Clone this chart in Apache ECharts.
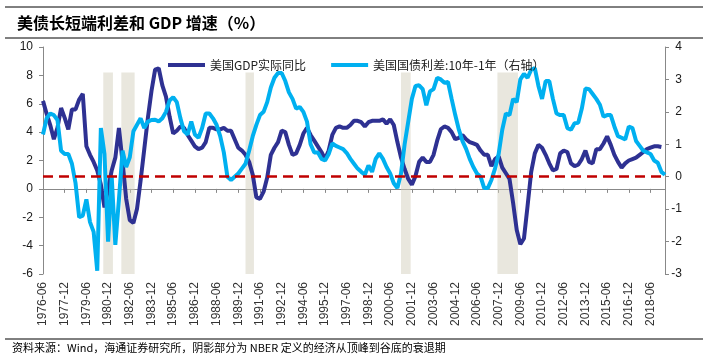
<!DOCTYPE html>
<html><head><meta charset="utf-8">
<script src="https://cdn.jsdelivr.net/npm/echarts/dist/echarts.min.js"></script>
<style>html,body{margin:0;padding:0;background:#fff}#c{width:708px;height:358px}</style>
</head><body><div id="c"></div>
<script>
// quarterly categories from 1976-06 to 2019-06
const startYear = 1976, startMonth = 6, nQ = 173;
const categories = [];
for (let i = 0; i < nQ; i++) {
  const m = startMonth - 1 + i * 3;
  categories.push((startYear + Math.floor(m / 12)) + '-' + String(m % 12 + 1).padStart(2, '0'));
}
const gdpName = '美国GDP实际同比';
const spreadName = '美国国债利差:10年-1年（右轴）';
const gdp = [6.2,5.3,4.5,3.5,4.3,5.7,5.0,4.2,5.6,5.6,6.3,6.7,3.0,2.4,1.9,1.3,0.3,-1.3,0.0,1.3,
  2.2,4.3,1.9,-0.7,-2.2,-2.4,-1.4,0.6,2.8,5.0,6.9,8.4,8.5,7.3,6.5,5.1,3.9,4.1,4.4,4.3,
  3.8,3.4,3.0,2.8,2.9,3.3,4.3,4.3,4.2,4.2,4.3,4.1,4.1,3.5,2.9,2.7,2.4,1.9,1.0,-0.6,
  -0.7,-0.2,0.8,2.4,2.9,3.3,4.1,4.0,3.1,2.4,2.5,3.1,3.9,4.3,3.8,3.4,3.0,2.6,2.1,2.7,
  3.8,4.3,4.4,4.3,4.3,4.5,4.8,4.8,4.7,4.4,4.7,4.8,4.8,4.8,4.9,4.6,4.9,4.5,3.3,2.2,
  1.4,0.7,0.3,0.9,1.9,2.2,1.9,1.9,2.4,3.4,4.2,4.4,4.3,4.0,3.5,3.6,3.8,3.5,3.3,3.2,
  3.1,2.7,2.4,2.4,1.6,2.1,2.3,1.5,1.1,0.7,-1.0,-2.9,-3.9,-3.5,-1.2,1.2,2.5,3.1,2.9,2.4,
  1.8,1.3,1.4,2.5,2.7,2.6,1.8,1.6,1.7,2.1,2.7,1.9,1.8,2.8,2.8,3.2,3.7,3.1,2.4,1.9,
  1.5,1.8,2.0,2.1,2.2,2.4,2.6,2.8,2.9,3.0,3.0,2.95,null];
const spread = [1.3,1.8,1.95,1.9,1.75,0.8,0.7,0.7,0.4,-0.2,-1.25,-1.2,-0.7,-1.4,-1.7,-2.9,1.5,0.7,-2.0,0.0,
  -2.1,-0.7,0.8,0.3,0.6,1.4,1.6,1.8,1.5,1.7,1.75,1.76,1.7,1.8,2.0,2.35,2.45,2.3,1.8,1.4,
  1.3,1.7,1.3,1.2,1.5,1.95,1.95,1.8,1.6,1.25,0.75,0.0,-0.1,0.0,0.1,0.25,0.4,0.8,1.25,1.6,
  1.9,2.0,2.3,2.75,3.05,3.2,3.2,2.95,2.6,2.4,2.1,2.15,2.0,1.7,1.0,0.75,0.75,0.55,0.5,0.7,
  1.03,0.95,0.9,0.85,0.73,0.55,0.4,0.25,0.15,0.06,0.35,0.15,0.55,0.72,0.55,0.3,0.1,-0.2,-0.35,0.1,
  1.0,1.7,2.4,2.8,2.82,2.7,2.2,2.63,2.7,3.05,3.0,2.9,2.92,2.4,1.9,1.45,1.1,0.86,0.55,0.3,
  0.1,0.0,-0.35,-0.35,-0.1,0.25,0.7,1.45,1.95,1.9,2.4,2.3,3.0,3.17,3.05,3.3,3.35,2.8,2.4,2.95,
  2.95,2.4,1.95,1.9,1.9,1.5,1.45,1.65,1.66,2.1,2.72,2.7,2.55,2.4,2.22,1.85,1.9,1.9,1.55,1.25,
  1.2,1.15,1.55,1.5,1.1,0.95,0.8,0.75,0.7,0.5,0.43,0.15,0.06];
// recession shading (start, end) as drawn
const recessions = [['1980-08','1981-04'],['1981-11','1982-10'],['1990-06','1991-01'],['2001-03','2001-11'],['2007-11','2009-04']];
const shadeLow = -6, shadeHigh = 8.2;
const refLine = 0;

function qIndex(s) {
  const [y, m] = s.split('-').map(Number);
  return ((y - startYear) * 12 + (m - startMonth)) / 3;
}
const FONT = "'Liberation Sans', 'Noto Sans CJK SC', sans-serif";
const CJK = "'Noto Sans CJK SC', 'Liberation Sans', sans-serif";
const chart = echarts.init(document.getElementById('c'), null, {renderer: 'canvas'});
chart.setOption({
  animation: false,
  backgroundColor: '#fff',
  grid: {left: 43, right: 43, top: 47, bottom: 84, containLabel: false},
  legend: {
    data: [gdpName, spreadName], left: 163, top: 54, icon: 'rect', itemWidth: 37, itemHeight: 4, itemGap: 25,
    textStyle: {fontSize: 12, color: '#222', fontFamily: CJK}
  },
  xAxis: [
    {type: 'category', data: categories, boundaryGap: false, position: 'bottom',
     axisLine: {show: true, onZero: true, onZeroAxisIndex: 0, lineStyle: {color: '#888', width: 1}},
     axisTick: {show: true, interval: 5, length: 4, lineStyle: {color: '#888'}},
     axisLabel: {show: false}, splitLine: {show: false}},
    {type: 'category', data: categories, boundaryGap: false, position: 'bottom',
     axisLine: {show: false, onZero: false}, axisTick: {show: false},
     axisLabel: {interval: 5, rotate: 90, fontSize: 12, color: '#333', margin: 8, fontFamily: FONT},
     splitLine: {show: false}},
    {type: 'value', min: 0, max: nQ - 1, show: false, position: 'top'}
  ],
  yAxis: [
    {type: 'value', min: -6, max: 10, interval: 2, position: 'left',
     axisLine: {show: true, lineStyle: {color: '#888'}}, axisTick: {show: true, length: 4, lineStyle: {color: '#888'}},
     axisLabel: {fontSize: 12, color: '#1a1a1a', margin: 10, fontFamily: FONT}, splitLine: {show: false}},
    {type: 'value', min: -3, max: 4, interval: 1, position: 'right',
     axisLine: {show: true, lineStyle: {color: '#888'}}, axisTick: {show: true, length: 4, lineStyle: {color: '#888'}},
     axisLabel: {fontSize: 12, color: '#1a1a1a', margin: 17, align: 'right', fontFamily: FONT}, splitLine: {show: false}}
  ],
  series: [
    {name: gdpName, type: 'line', xAxisIndex: 0, yAxisIndex: 0, data: gdp, showSymbol: false, z: 2,
     lineStyle: {color: '#2E3192', width: 4}, itemStyle: {color: '#2E3192'}},
    {name: spreadName, type: 'line', xAxisIndex: 0, yAxisIndex: 1, data: spread, showSymbol: false, z: 3,
     lineStyle: {color: '#00B0F0', width: 4}, itemStyle: {color: '#00B0F0'}},
    {name: 'shade', type: 'line', xAxisIndex: 2, yAxisIndex: 0, data: [], z: 10, silent: true,
     markArea: {silent: true, itemStyle: {color: 'rgba(211,207,190,0.5)'},
       data: recessions.map(r => [{xAxis: qIndex(r[0]), yAxis: shadeLow}, {xAxis: qIndex(r[1]), yAxis: shadeHigh}])}},
    {name: 'ref', type: 'line', xAxisIndex: 0, yAxisIndex: 1, data: [], z: 12, silent: true,
     markLine: {silent: true, symbol: 'none', label: {show: false},
       lineStyle: {color: '#C00000', type: [10, 6], width: 2.5}, data: [{yAxis: refLine}]}}
  ],
  graphic: [
    {type: 'line', shape: {x1: 5, y1: 7, x2: 703, y2: 7}, style: {stroke: '#000', lineWidth: 1}},
    {type: 'text', x: 17, y: 23, style: {text: '美债长短端利差和 GDP 增速（%）', font: "bold 16px " + CJK, fill: '#000', verticalAlign: 'middle'}},
    {type: 'line', shape: {x1: 5, y1: 38, x2: 703, y2: 38}, style: {stroke: '#000', lineWidth: 1}},
    {type: 'line', shape: {x1: 5, y1: 339, x2: 703, y2: 339}, style: {stroke: '#000', lineWidth: 1}},
    {type: 'text', x: 12, y: 348, style: {text: '资料来源：Wind，海通证券研究所，阴影部分为 NBER 定义的经济从顶峰到谷底的衰退期', font: "11px " + CJK, fill: '#000', verticalAlign: 'middle'}}
  ]
});
</script>
</body></html>
